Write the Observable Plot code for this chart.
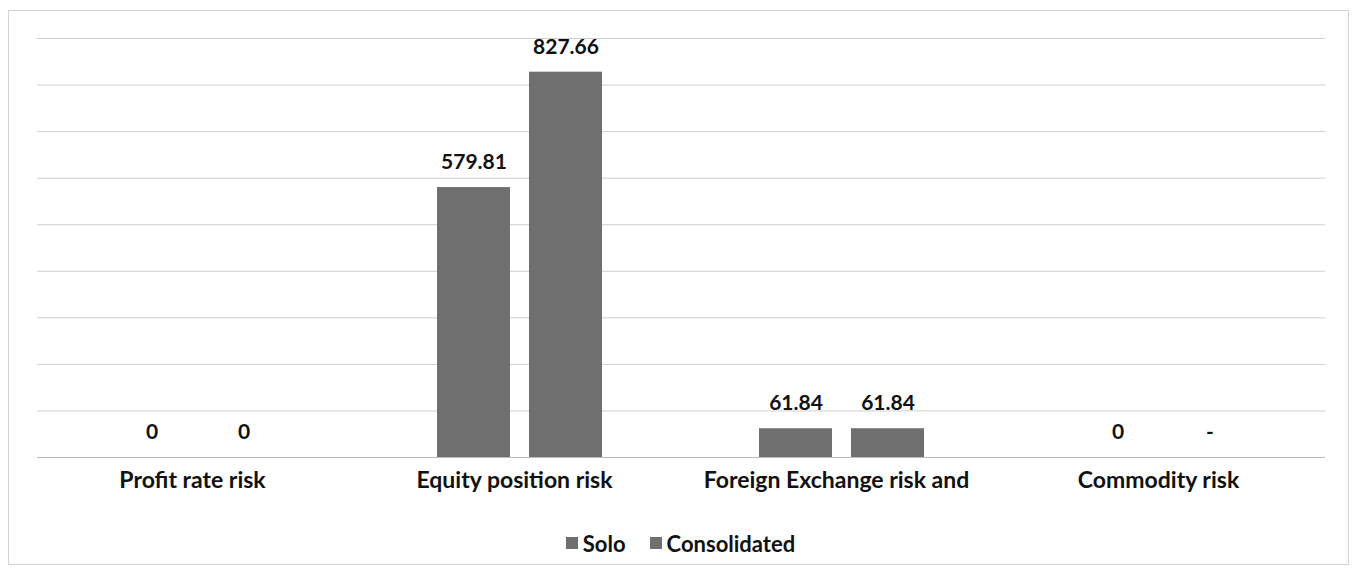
<!DOCTYPE html>
<html>
<head>
<meta charset="utf-8">
<script src="https://cdn.jsdelivr.net/npm/d3@7"></script>
<script src="https://cdn.jsdelivr.net/npm/@observablehq/plot@0.6"></script>
<style>
  html, body { margin: 0; padding: 0; background: #ffffff; }
  #wrap { position: relative; width: 1361px; height: 577px; overflow: hidden; font-family: Lato, "Open Sans", sans-serif; }
  #border { position: absolute; left: 8px; top: 10px; width: 1341px; height: 555px; border: 1px solid #d4d4d4; box-sizing: border-box; }
  #chart { position: absolute; left: 0; top: 0; }
  #legend { position: absolute; left: 0; top: 527px; width: 1361px; text-align: center; font-weight: bold; font-size: 22px; color: #111; }
  #legend span.item { display: inline-flex; align-items: center; margin: 0 12px; }
  #legend span.sw { display: inline-block; width: 12px; height: 12px; background: #707070; margin-right: 5px; }
</style>
</head>
<body>
<div id="wrap">
  <div id="border"></div>
  <div id="chart"></div>
  <div id="legend"></div>
</div>
<script>
// ---- data ----
const categories = ["Profit rate risk", "Equity position risk", "Foreign Exchange risk and", "Commodity risk"];
const seriesNames = ["Solo", "Consolidated"];
const soloValues = [0, 579.81, 61.84, 0];
const consolidatedValues = [0, 827.66, 61.84, null];   // shown as "-" in the reference
const yTicks = [0, 100, 200, 300, 400, 500, 600, 700, 800, 900];

const rows = [];
categories.forEach((c, i) => {
  rows.push({category: c, series: "Solo", value: soloValues[i]});
  rows.push({category: c, series: "Consolidated", value: consolidatedValues[i]});
});

const barColor = "#6f6f6f";

const chart = Plot.plot({
  width: 1361,
  height: 505,
  marginLeft: 37,
  marginRight: 36,
  marginTop: 38,
  marginBottom: 48,
  style: {fontFamily: "Lato, 'Open Sans', sans-serif", fontWeight: "bold", fontSize: "23px", color: "#111", background: "transparent"},
  fx: {domain: categories, padding: 0, label: null, axis: null},
  x: {domain: seriesNames, paddingInner: 0.2065, paddingOuter: 0.853, axis: null},
  y: {domain: [0, 900], axis: null},
  marks: [
    Plot.ruleY(yTicks.slice(1), {stroke: "#cfcfcf", strokeWidth: 1}),
    Plot.ruleY([0], {stroke: "#bdbdbd", strokeWidth: 1.2}),
    Plot.barY(rows.filter(d => d.value != null), {fx: "category", x: "series", y: "value", fill: barColor}),
    Plot.text(rows, {
      fx: "category", x: "series",
      y: d => d.value == null ? 0 : d.value,
      text: d => d.value == null ? "-" : String(d.value),
      dy: -25, fill: "#111", fontWeight: "bold", fontSize: 21
    }),
    Plot.axisFx({anchor: "bottom", tickSize: 0, tickPadding: 14, dx: -6, label: null, fontSize: 23, fontWeight: "bold"})
  ]
});
document.getElementById("chart").appendChild(chart);

// legend
const legend = document.getElementById("legend");
seriesNames.forEach(name => {
  const item = document.createElement("span");
  item.className = "item";
  const sw = document.createElement("span");
  sw.className = "sw";
  sw.style.background = barColor;
  item.appendChild(sw);
  item.appendChild(document.createTextNode(name));
  legend.appendChild(item);
});
</script>
</body>
</html>
